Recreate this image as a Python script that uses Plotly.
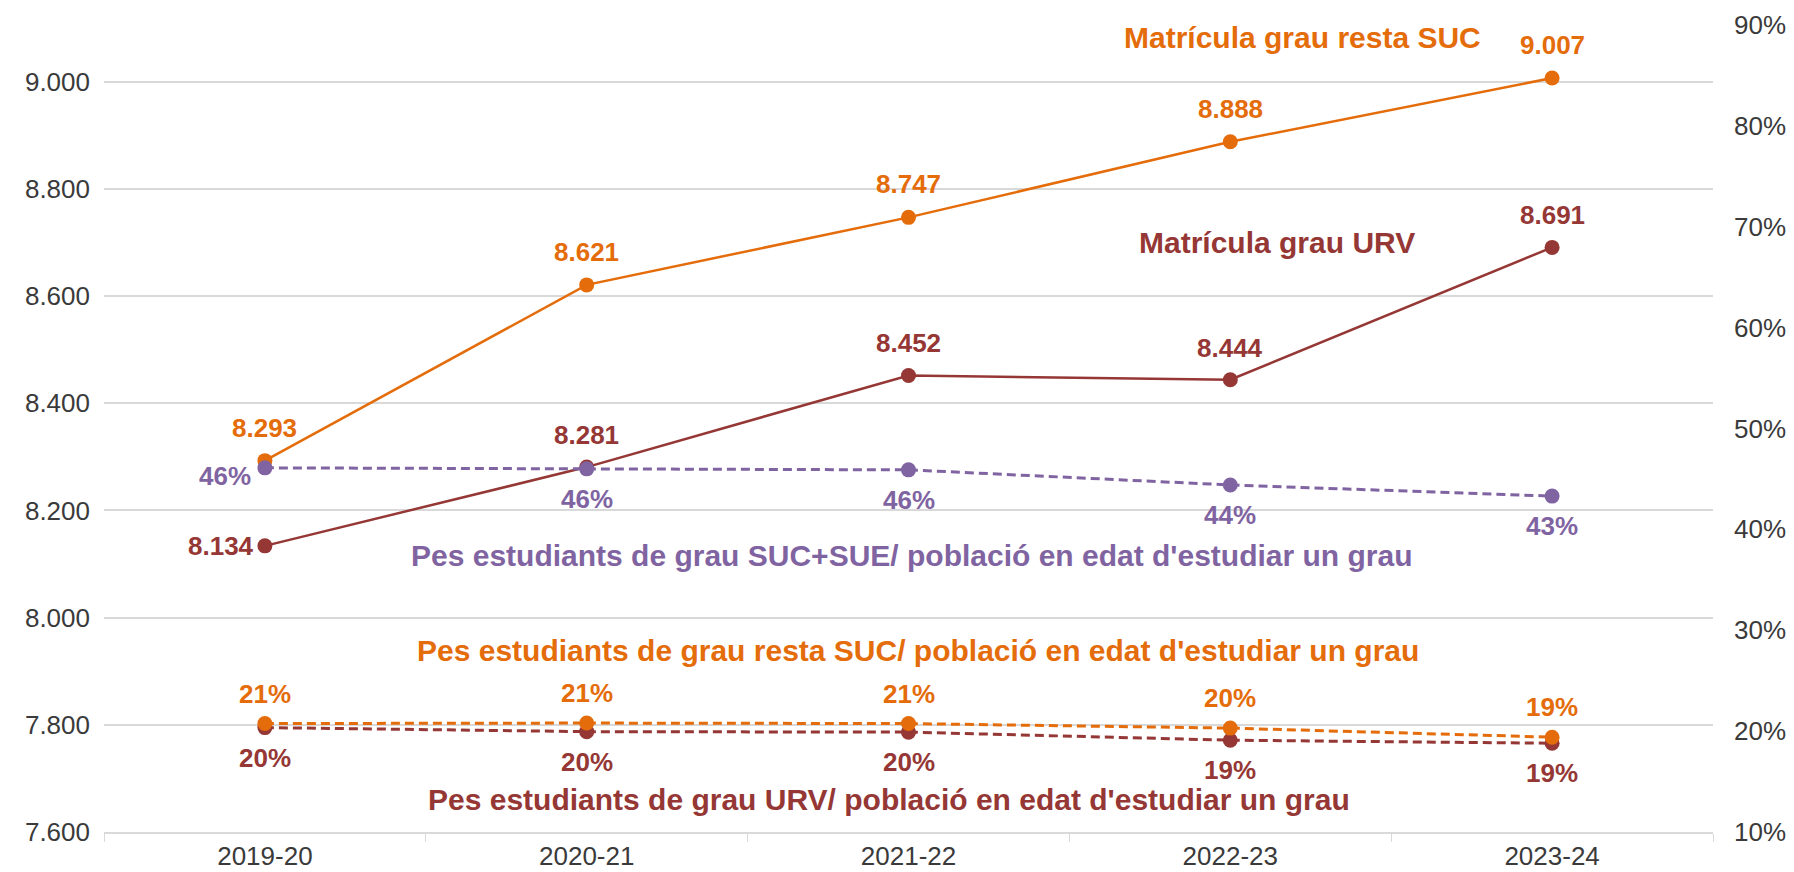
import plotly.graph_objects as go

# ---- data ----
years = ["2019-20", "2020-21", "2021-22", "2022-23", "2023-24"]
matricula_resta_suc = [8293, 8621, 8747, 8888, 9007]
matricula_urv = [8134, 8281, 8452, 8444, 8691]
pes_suc_sue = [46.1, 46.0, 45.9, 44.4, 43.3]
pes_resta_suc = [20.75, 20.8, 20.75, 20.3, 19.4]
pes_urv = [20.35, 19.95, 19.9, 19.1, 18.8]

left_ticks = [7600, 7800, 8000, 8200, 8400, 8600, 8800, 9000]
right_ticks = [10, 20, 30, 40, 50, 60, 70, 80, 90]

ORANGE = "#E46C0A"
RED = "#953735"
PURPLE = "#8064A2"
GRID = "#D9D9D9"
TXT = "#3A3A3A"
FONT = "Liberation Sans, Arial, sans-serif"

fig = go.Figure()

fig.add_trace(go.Scatter(x=years, y=matricula_resta_suc, mode="lines+markers",
                         line=dict(color=ORANGE, width=2.5),
                         marker=dict(color=ORANGE, size=15), yaxis="y"))
fig.add_trace(go.Scatter(x=years, y=matricula_urv, mode="lines+markers",
                         line=dict(color=RED, width=2.5),
                         marker=dict(color=RED, size=15), yaxis="y"))
fig.add_trace(go.Scatter(x=years, y=pes_urv, mode="lines+markers",
                         line=dict(color=RED, width=3, dash="9px,5px"),
                         marker=dict(color=RED, size=15), yaxis="y2"))
fig.add_trace(go.Scatter(x=years, y=pes_resta_suc, mode="lines+markers",
                         line=dict(color=ORANGE, width=3, dash="9px,5px"),
                         marker=dict(color=ORANGE, size=15), yaxis="y2"))
fig.add_trace(go.Scatter(x=years, y=pes_suc_sue, mode="lines+markers",
                         line=dict(color=PURPLE, width=3, dash="9px,5px"),
                         marker=dict(color=PURPLE, size=15), yaxis="y2"))

ann = []
LBL = dict(family=FONT, size=26, weight="bold")


def fmt_int(v):
    return f"{v:,}".replace(",", ".")


for i, (x, v) in enumerate(zip(years, matricula_resta_suc)):
    ann.append(dict(x=x, y=v, xref="x", yref="y", text=fmt_int(v), showarrow=False,
                    yshift=33, font=dict(LBL, color=ORANGE)))
for i, (x, v) in enumerate(zip(years, matricula_urv)):
    if i == 0:
        ann.append(dict(x=x, y=v, xref="x", yref="y", text=fmt_int(v), showarrow=False,
                        xanchor="right", xshift=-9, font=dict(LBL, color=RED)))
    else:
        ann.append(dict(x=x, y=v, xref="x", yref="y", text=fmt_int(v), showarrow=False,
                        yshift=32, font=dict(LBL, color=RED)))
for i, (x, v) in enumerate(zip(years, pes_suc_sue)):
    if i == 0:
        ann.append(dict(x=x, y=v, xref="x", yref="y2", text=f"{round(v)}%", showarrow=False,
                        xanchor="right", xshift=-12, yshift=-8, font=dict(LBL, color=PURPLE)))
    else:
        ann.append(dict(x=x, y=v, xref="x", yref="y2", text=f"{round(v)}%", showarrow=False,
                        yshift=-30, font=dict(LBL, color=PURPLE)))
for x, v in zip(years, pes_resta_suc):
    ann.append(dict(x=x, y=v, xref="x", yref="y2", text=f"{round(v)}%", showarrow=False,
                    yshift=30, font=dict(LBL, color=ORANGE)))
for x, v in zip(years, pes_urv):
    ann.append(dict(x=x, y=v, xref="x", yref="y2", text=f"{round(v)}%", showarrow=False,
                    yshift=-30, font=dict(LBL, color=RED)))

TITLE = dict(family=FONT, size=30, weight="bold")
titles = [
    ("Matrícula grau resta SUC", 0.745, 0.985, ORANGE),
    ("Matrícula grau URV", 0.729, 0.730, RED),
    ("Pes estudiants de grau SUC+SUE/ població en edat d'estudiar un grau", 0.502, 0.343, PURPLE),
    ("Pes estudiants de grau resta SUC/ població en edat d'estudiar un grau", 0.506, 0.225, ORANGE),
    ("Pes estudiants de grau URV/ població en edat d'estudiar un grau", 0.488, 0.040, RED),
]
for t, x, y, c in titles:
    ann.append(dict(x=x, y=y, xref="paper", yref="paper", text=t, showarrow=False,
                    xanchor="center", yanchor="middle", font=dict(TITLE, color=c)))

# the page body adds an 8px margin, so the figure is 8px smaller on each axis
fig.update_layout(
    width=1786, height=864,
    margin=dict(l=96, r=81, t=17, b=40, autoexpand=False),
    paper_bgcolor="white", plot_bgcolor="white",
    showlegend=False,
    separators=",.",
    font=dict(family=FONT, size=26, color=TXT),
    annotations=ann,
    xaxis=dict(type="category", range=[-0.5, 4.5], showgrid=False, zeroline=False,
               showline=True, linecolor=GRID, linewidth=1.5, automargin=False,
               ticks="outside", tickson="boundaries", ticklen=8, tickcolor=GRID,
               tickfont=dict(size=26, color=TXT)),
    yaxis=dict(range=[7600, 9106], tickvals=left_ticks, tickformat=",.0f",
               showgrid=True, gridcolor=GRID, gridwidth=1.5, zeroline=False,
               showline=False, ticks="", ticklabelstandoff=13, automargin=False,
               tickfont=dict(size=26, color=TXT)),
    yaxis2=dict(range=[10, 90], tickvals=right_ticks,
                ticktext=[f"{v}%" for v in right_ticks],
                overlaying="y", side="right", showgrid=False, zeroline=False,
                showline=False, ticks="", ticklabelstandoff=20, automargin=False,
                tickfont=dict(size=26, color=TXT)),
)

fig.write_html("out.html")
